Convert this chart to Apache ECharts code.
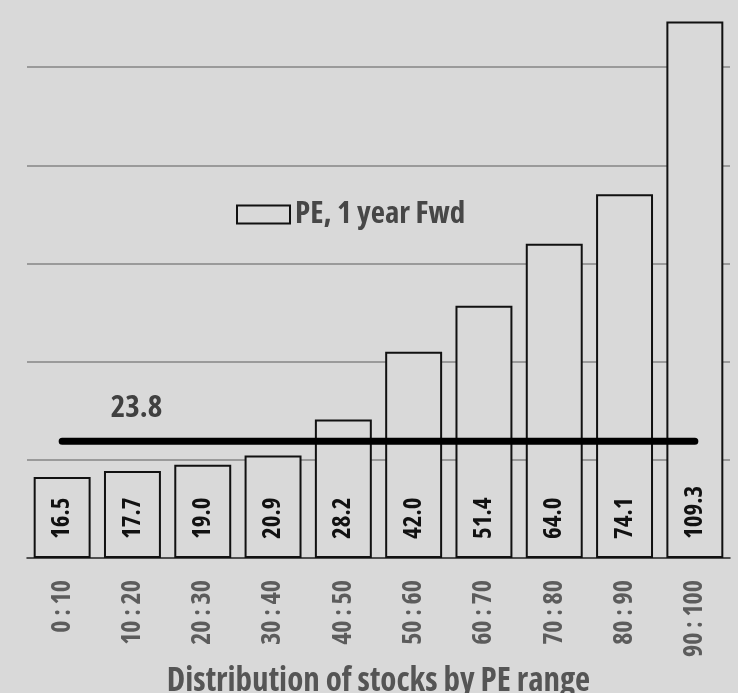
<!DOCTYPE html>
<html>
<head>
<meta charset="utf-8">
<script src="https://cdn.jsdelivr.net/npm/echarts@6/dist/echarts.min.js"></script>
<style>
  html, body { margin: 0; padding: 0; background: #d9d9d9; }
  #chart { width: 738px; height: 693px; }
</style>
</head>
<body>
<div id="chart"></div>
<script>
// PE ranges (percentile buckets of the stock universe)
const categories = ['0 : 10', '10 : 20', '20 : 30', '30 : 40', '40 : 50',
                    '50 : 60', '60 : 70', '70 : 80', '80 : 90', '90 : 100'];
// 1-year forward PE per bucket
const peForward = [16.5, 17.7, 19.0, 20.9, 28.2, 42.0, 51.4, 64.0, 74.1, 109.3];
// Overall level drawn as a thick horizontal line
const overallPE = [23.8, 23.8, 23.8, 23.8, 23.8, 23.8, 23.8, 23.8, 23.8, 23.8];
const seriesName = 'PE, 1 year Fwd';
const axisTitle = 'Distribution of stocks by PE range';

// condensed face of Open Sans (selected through the font-stretch keyword)
const FONT = "'Open Sans', 'Roboto Condensed', sans-serif";
const STRETCH = 'condensed';
const BG = '#d9d9d9';

const chart = echarts.init(document.getElementById('chart'), null, { renderer: 'canvas' });
chart.setOption({
  backgroundColor: BG,
  animation: false,
  grid: { left: 27, right: 8, top: 18, bottom: 135, containLabel: false, outerBoundsMode: 'none' },
  legend: {
    data: [seriesName],
    left: 236, top: 199,
    padding: 0,
    icon: 'rect',
    itemWidth: 53, itemHeight: 18,
    itemStyle: { color: BG, borderColor: '#111', borderWidth: 2 },
    textStyle: { fontFamily: FONT, fontStyle: STRETCH, fontSize: 31, fontWeight: 'bold', color: '#474747' }
  },
  xAxis: {
    type: 'category',
    data: categories,
    axisLine: { show: true, lineStyle: { color: '#222', width: 1.5 } },
    axisTick: { show: false },
    axisLabel: {
      rotate: 90, margin: 22, interval: 0,
      fontFamily: FONT, fontStyle: STRETCH, fontSize: 26, fontWeight: 'bold', color: '#5c5c5c'
    },
    name: axisTitle,
    nameLocation: 'middle',
    nameGap: 99,
    nameTextStyle: { fontFamily: FONT, fontStyle: STRETCH, fontSize: 33, fontWeight: 'bold', color: '#555' }
  },
  yAxis: {
    type: 'value',
    min: 0, max: 110, interval: 20,
    axisLabel: { show: false },
    axisLine: { show: false },
    axisTick: { show: false },
    splitLine: { show: true, showMinLine: false, showMaxLine: false, lineStyle: { color: '#858585', width: 1.5 } }
  },
  series: [
    {
      name: seriesName,
      type: 'bar',
      data: peForward,
      barCategoryGap: '19%',
      itemStyle: { color: BG, borderColor: '#111', borderWidth: 2 },
      label: {
        show: true,
        position: 'insideBottom',
        rotate: 90,
        align: 'left',
        verticalAlign: 'middle',
        distance: 19,
        fontFamily: FONT, fontStyle: STRETCH, fontSize: 25, fontWeight: 'bold', color: '#111',
        formatter: p => p.value.toFixed(1)
      }
    },
    {
      name: 'overall',
      type: 'line',
      data: overallPE,
      symbol: 'circle',
      symbolSize: 1,
      itemStyle: { color: '#000' },
      lineStyle: { color: '#000', width: 7, cap: 'round' },
      z: 5,
      label: {
        show: true,
        position: 'top',
        distance: 17,
        offset: [4, 0],
        fontFamily: FONT, fontStyle: STRETCH, fontSize: 31, fontWeight: 'bold', color: '#404040',
        formatter: p => (p.dataIndex === 1 ? p.value.toFixed(1) : '')
      }
    }
  ]
});
</script>
</body>
</html>
